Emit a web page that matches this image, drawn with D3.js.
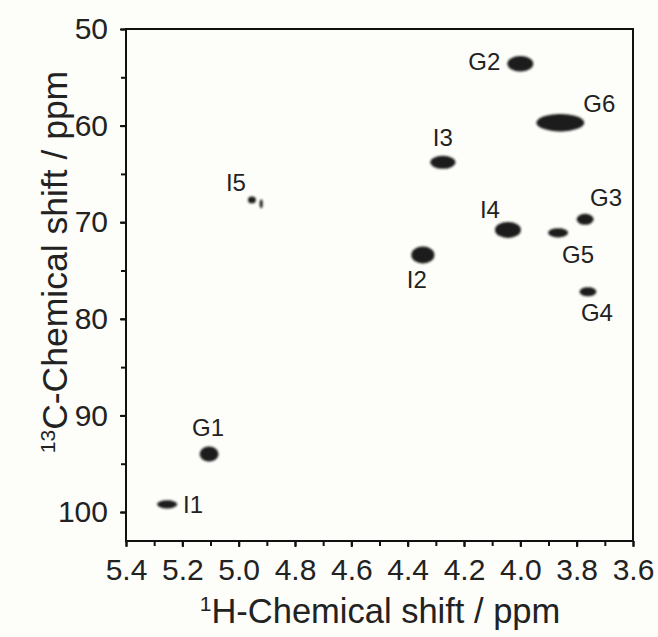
<!DOCTYPE html>
<html>
<head>
<meta charset="utf-8">
<script src="https://cdn.jsdelivr.net/npm/d3@7"></script>
<style>
  body { margin: 0; background: #fdfdf9; }
  svg { display: block; font-family: "Liberation Sans", Arial, sans-serif; }
</style>
</head>
<body>
<div id="chart"></div>
<script>
// peak assignments (1H / 13C shifts in ppm)
var peakNames = ["G1", "G2", "G3", "G4", "G5", "G6", "I1", "I2", "I3", "I4", "I5", "I5"];
var shiftH = [5.105, 4.00, 3.77, 3.76, 3.866, 3.858, 5.254, 4.346, 4.275, 4.044, 4.953, 4.92];
var shiftC = [94.0, 53.6, 69.7, 77.2, 71.1, 59.7, 99.2, 73.4, 63.8, 70.8, 67.7, 68.1];
// apparent peak widths (ppm)
var widthH = [0.067, 0.092, 0.06, 0.06, 0.071, 0.17, 0.071, 0.082, 0.089, 0.092, 0.028, 0.011];
var widthC = [1.55, 1.6, 1.15, 0.95, 0.95, 1.8, 0.85, 1.75, 1.35, 1.65, 0.7, 0.9];

var xTicks = [5.4, 5.2, 5.0, 4.8, 4.6, 4.4, 4.2, 4.0, 3.8, 3.6];
var yTicks = [50, 60, 70, 80, 90, 100];

// label placement, pixel offsets from the peak centre
var labelDx = [-1, -36, 21, 9, 20, 39, 26, -6, 0, -18, -16, 0];
var labelDy = [-26, -2, -22, 21, 22, -19, 0, 25, -25, -20, -17, 0];

var width = 658, height = 637;
var margin = {left: 126, right: 25, top: 29, bottom: 96};

var svg = d3.select("#chart").append("svg")
    .attr("width", width)
    .attr("height", height);

svg.append("rect").attr("width", width).attr("height", height).attr("fill", "#fdfdf9");

var x = d3.scaleLinear().domain([5.4, 3.6]).range([margin.left, width - margin.right]);
var y = d3.scaleLinear().domain([50, 103]).range([margin.top, height - margin.bottom]);

var defs = svg.append("defs");
defs.append("filter").attr("id", "soft")
    .attr("x", "-50%").attr("y", "-50%").attr("width", "200%").attr("height", "200%")
    .append("feGaussianBlur").attr("stdDeviation", 1.2);

// minor ticks
var xMinor = d3.range(36, 55).map(function (d) { return d / 10; });
var yMinor = d3.range(50, 104, 5);

svg.append("g")
    .attr("transform", "translate(0," + y.range()[1] + ")")
    .call(d3.axisBottom(x).tickValues(xMinor).tickSize(5).tickFormat(""))
    .call(function (g) { g.select(".domain").remove(); })
    .selectAll("line").attr("stroke", "#111").attr("stroke-width", 2);

svg.append("g")
    .attr("transform", "translate(" + x.range()[0] + ",0)")
    .call(d3.axisLeft(y).tickValues(yMinor).tickSize(5).tickFormat(""))
    .call(function (g) { g.select(".domain").remove(); })
    .selectAll("line").attr("stroke", "#111").attr("stroke-width", 2);

// major ticks with labels
var xAxis = svg.append("g")
    .attr("transform", "translate(0," + y.range()[1] + ")")
    .call(d3.axisBottom(x).tickValues(xTicks).tickSize(6).tickPadding(12)
        .tickFormat(d3.format(".1f")));
xAxis.select(".domain").remove();
xAxis.selectAll("line").attr("stroke", "#111").attr("stroke-width", 2);
xAxis.selectAll("text").attr("font-size", 30).attr("fill", "#222")
    .attr("font-family", "Liberation Sans, Arial, sans-serif");

var yAxis = svg.append("g")
    .attr("transform", "translate(" + x.range()[0] + ",0)")
    .call(d3.axisLeft(y).tickValues(yTicks).tickSize(6).tickPadding(12));
yAxis.select(".domain").remove();
yAxis.selectAll("line").attr("stroke", "#111").attr("stroke-width", 2);
yAxis.selectAll("text").attr("font-size", 30).attr("fill", "#222")
    .attr("font-family", "Liberation Sans, Arial, sans-serif");

// frame
svg.append("rect")
    .attr("x", x.range()[0]).attr("y", y.range()[0])
    .attr("width", x.range()[1] - x.range()[0])
    .attr("height", y.range()[1] - y.range()[0])
    .attr("fill", "none").attr("stroke", "#111").attr("stroke-width", 2);

// cross peaks
var peaks = peakNames.map(function (n, i) {
    return {name: n, h: shiftH[i], c: shiftC[i], wh: widthH[i], wc: widthC[i],
            dx: labelDx[i], dy: labelDy[i]};
});

svg.append("g").attr("filter", "url(#soft)")
    .selectAll("ellipse")
    .data(peaks).enter()
    .append("ellipse")
    .attr("cx", function (d) { return x(d.h); })
    .attr("cy", function (d) { return y(d.c); })
    .attr("rx", function (d) { return Math.abs(x(d.h + d.wh / 2) - x(d.h)); })
    .attr("ry", function (d) { return Math.abs(y(d.c + d.wc / 2) - y(d.c)); })
    .attr("fill", "#1a1a1a");

// labels (I5 is labelled once)
svg.append("g")
    .selectAll("text")
    .data(peaks.filter(function (d, i) { return peakNames.indexOf(d.name) == i; }))
    .enter()
    .append("text")
    .attr("x", function (d) { return x(d.h) + d.dx; })
    .attr("y", function (d) { return y(d.c) + d.dy; })
    .attr("dy", "0.35em")
    .attr("text-anchor", "middle")
    .attr("font-size", 24)
    .attr("fill", "#222")
    .text(function (d) { return d.name; });

// axis titles
var xt = svg.append("text")
    .attr("x", 380)
    .attr("y", 623)
    .attr("text-anchor", "middle")
    .attr("font-size", 34.5)
    .attr("fill", "#222");
xt.append("tspan").attr("font-size", 21).attr("dy", -12).text("1");
xt.append("tspan").attr("dy", 12).text("H-Chemical shift / ppm");

var yt = svg.append("text")
    .attr("transform", "translate(67,262) rotate(-90)")
    .attr("text-anchor", "middle")
    .attr("font-size", 35.5)
    .attr("fill", "#222");
yt.append("tspan").attr("font-size", 21).attr("dy", -12).text("13");
yt.append("tspan").attr("dy", 12).text("C-Chemical shift / ppm");
</script>
</body>
</html>
